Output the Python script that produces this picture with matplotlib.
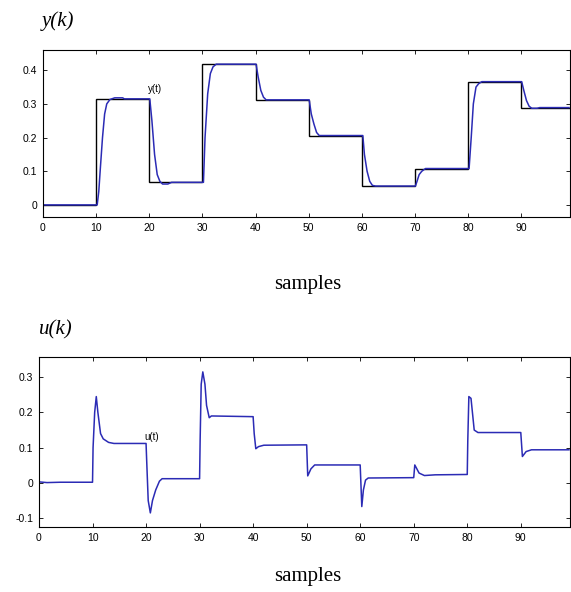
"""Step responses of the reference, output y(t) and control u(t)."""

import matplotlib
matplotlib.use("Agg")
import matplotlib.pyplot as plt

# reference set-point, one level per block of 10 samples
ref_edges = [0, 10, 20, 30, 40, 50, 60, 70, 80, 90, 100]
ref_levels = [0.0, 0.315, 0.067, 0.418, 0.312, 0.206, 0.056, 0.108, 0.366, 0.289]

# plant output y(t)
y_time = [0, 10.2, 10.5, 10.8, 11.2, 11.6, 12.0, 12.6, 13.5, 15.0, 15.3,
          20.1, 20.5, 21.0, 21.5, 22.0, 22.5, 23.5, 24.2,
          30.2, 30.5, 31.0, 31.5, 32.0, 32.6,
          40.1, 40.5, 41.0, 41.5, 42.0,
          50.1, 50.5, 51.0, 51.5, 52.0,
          60.2, 60.5, 61.0, 61.5, 62.0, 62.6,
          70.1, 70.4, 70.8, 71.3, 72.0,
          80.2, 80.6, 81.0, 81.5, 82.0, 82.6,
          90.1, 90.5, 91.0, 91.5, 92.0, 93.0, 93.5, 99]
y_vals = [0.0, 0.0, 0.04, 0.11, 0.2, 0.27, 0.3, 0.313, 0.318, 0.318, 0.315,
          0.315, 0.25, 0.15, 0.09, 0.07, 0.062, 0.062, 0.067,
          0.067, 0.2, 0.33, 0.39, 0.41, 0.418,
          0.418, 0.38, 0.34, 0.32, 0.312,
          0.312, 0.27, 0.24, 0.215, 0.206,
          0.206, 0.15, 0.1, 0.07, 0.058, 0.056,
          0.056, 0.07, 0.09, 0.1, 0.108,
          0.108, 0.2, 0.3, 0.35, 0.36, 0.366,
          0.366, 0.34, 0.31, 0.293, 0.287, 0.287, 0.289, 0.289]

# control signal u(t)
u_time = [0, 1.5, 4.0, 10.0, 10.1, 10.4, 10.7, 11.0, 11.5, 12.0, 13.0, 14.0,
          20.0, 20.1, 20.4, 20.8, 21.2, 21.8, 22.5, 23.0,
          30.0, 30.1, 30.3, 30.6, 31.0, 31.3, 31.8, 32.2,
          40.0, 40.2, 40.5, 41.0, 42.0,
          50.0, 50.2, 50.8, 51.5,
          60.0, 60.3, 60.6, 61.0, 61.5,
          70.0, 70.2, 71.0, 72.0, 74.0,
          80.0, 80.1, 80.3, 80.7, 81.3, 82.0,
          90.0, 90.3, 91.0, 92.0, 99]
u_vals = [0.003, 0.001, 0.002, 0.002, 0.1, 0.2, 0.245, 0.2, 0.14, 0.125, 0.115, 0.112,
          0.112, 0.07, -0.05, -0.085, -0.05, -0.02, 0.005, 0.012,
          0.012, 0.12, 0.28, 0.315, 0.28, 0.22, 0.185, 0.19,
          0.188, 0.14, 0.097, 0.103, 0.107,
          0.108, 0.02, 0.04, 0.051,
          0.051, -0.067, -0.02, 0.008, 0.014,
          0.015, 0.051, 0.028, 0.021, 0.023,
          0.024, 0.12, 0.245, 0.24, 0.15, 0.143,
          0.143, 0.075, 0.089, 0.094, 0.094]

x_ticks = [0, 10, 20, 30, 40, 50, 60, 70, 80, 90]
y_ticks_top = [0, 0.1, 0.2, 0.3, 0.4]
y_ticks_bottom = [-0.1, 0, 0.1, 0.2, 0.3]

BLUE = "#2b2bb5"
plt.rcParams["font.family"] = ["Liberation Sans", "DejaVu Sans"]

fig = plt.figure(figsize=(5.71, 5.92), dpi=100)
ax1 = fig.add_axes([0.0753, 0.6334, 0.923, 0.2821])
ax2 = fig.add_axes([0.0683, 0.1098, 0.930, 0.2870])


def style_axis(ax, yticks, ylim):
    ax.set_xlim(0, 99.2)
    ax.set_ylim(*ylim)
    ax.set_xticks(x_ticks)
    ax.set_yticks(yticks)
    ax.set_yticklabels([f"{v:g}" for v in yticks])
    ax.tick_params(direction="in", top=True, right=True, length=3,
                   width=0.6, labelsize=7.5, pad=4)
    for s in ax.spines.values():
        s.set_linewidth(0.8)


ax1.stairs(ref_levels, ref_edges, color="black", linewidth=1.0)
ax1.plot(y_time, y_vals, color=BLUE, linewidth=1.1)
ax1.text(19.8, 0.345, "y(t)", fontsize=7, va="center")
style_axis(ax1, y_ticks_top, (-0.036, 0.46))

ax2.plot(u_time, u_vals, color=BLUE, linewidth=1.1)
ax2.text(19.6, 0.13, "u(t)", fontsize=7, va="center")
style_axis(ax2, y_ticks_bottom, (-0.125, 0.357))

serif = ["Liberation Serif", "DejaVu Serif"]
fig.text(0.073, 0.965, "y(k)", family=serif, style="italic", fontsize=15, ha="left", va="center")
fig.text(0.068, 0.442, "u(k)", family=serif, style="italic", fontsize=15, ha="left", va="center")
fig.text(0.539, 0.519, "samples", family=serif, fontsize=15, ha="center", va="center")
fig.text(0.539, 0.027, "samples", family=serif, fontsize=15, ha="center", va="center")

fig.savefig("out.png", dpi=100)
